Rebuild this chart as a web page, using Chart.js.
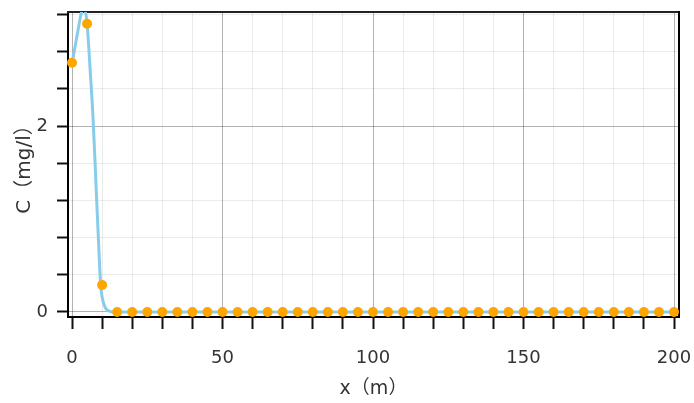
<!DOCTYPE html>
<html>
<head>
<meta charset="utf-8">
<script src="https://cdn.jsdelivr.net/npm/chart.js@4"></script>
<style>
  html, body { margin: 0; padding: 0; background: #fff; }
  #wrap { width: 694px; height: 403px; }
</style>
</head>
<body>
<div id="wrap"><canvas id="miGrafico" width="694" height="403"></canvas></div>
<script>
// measured points
const pointX = [0, 5, 10, 15, 20, 25, 30, 35, 40, 45, 50, 55, 60, 65, 70, 75, 80, 85, 90, 95, 100,
	105, 110, 115, 120, 125, 130, 135, 140, 145, 150, 155, 160, 165, 170, 175, 180, 185, 190, 195, 200];
const pointC = [2.68, 3.1, 0.29, 0, 0, 0, 0, 0, 0, 0, 0, 0, 0, 0, 0, 0, 0, 0, 0, 0, 0,
	0, 0, 0, 0, 0, 0, 0, 0, 0, 0, 0, 0, 0, 0, 0, 0, 0, 0, 0, 0];

// fitted curve
const curveX = [0, 1, 2, 3, 4, 5, 6, 7, 8, 9, 9.5, 10, 11, 12, 13, 14, 200];
const curveC = [2.67, 2.85, 3.03, 3.2, 3.28, 3.1, 2.62, 2.08, 1.35, 0.62, 0.3, 0.16, 0.05, 0.015, 0.003, 0, 0];

const xTitle = "x（m）";
const yTitle = "C（mg/l）";

const fontFam = "'DejaVu Sans', 'Noto Sans CJK SC', sans-serif";
const textColor = "#333";

function toXY(xs, ys) {
	return xs.map((x, i) => ({ x: x, y: ys[i] }));
}

function isMult(v, step) {
	return Math.abs(v - Math.round(v / step) * step) < 1e-6;
}

function noPad(s) {
	s.paddingTop = 0;
	s.paddingBottom = 0;
	s.paddingLeft = 0;
	s.paddingRight = 0;
}

function initGrafico() {
	const ctx = document.getElementById("miGrafico");

	new Chart(ctx, {
		type: "scatter",
		data: {
			datasets: [
				{
					label: "measured",
					data: toXY(pointX, pointC),
					backgroundColor: "#ffa500",
					borderColor: "#ffa500",
					pointRadius: 5,
					pointBorderWidth: 0,
					showLine: false,
					clip: false,
					order: 0,
				},
				{
					label: "curve",
					data: toXY(curveX, curveC),
					borderColor: "#87cdea",
					borderWidth: 3,
					pointRadius: 0,
					showLine: true,
					cubicInterpolationMode: "monotone",
					order: 1,
				},
			],
		},
		options: {
			responsive: false,
			animation: false,
			layout: { padding: { top: 12, right: 15, left: 0, bottom: 0 } },
			plugins: { legend: { display: false }, tooltip: { enabled: false } },
			scales: {
				x: {
					type: "linear",
					position: "bottom",
					min: -1.33,
					max: 201.66,
					afterFit: (s) => { s.height = 86; noPad(s); },
					border: { color: "#000", width: 2 },
					grid: {
						color: (c) => isMult(c.tick.value, 50) ? "rgba(0,0,0,0.3)" : "rgba(0,0,0,0.08)",
						tickColor: "#111",
						tickLength: 12,
						tickWidth: 2,
					},
					ticks: {
						stepSize: 10,
						includeBounds: false,
						autoSkip: false,
						maxRotation: 0,
						padding: 19,
						color: textColor,
						font: { family: fontFam, size: 18 },
						callback: (v) => isMult(v, 50) ? String(Math.round(v)) : "",
					},
					title: {
						display: true,
						text: xTitle,
						color: textColor,
						font: { family: fontFam, size: 19 },
						padding: { top: 0, bottom: 3 },
					},
				},
				y: {
					type: "linear",
					position: "left",
					min: -0.054,
					max: 3.226,
					afterFit: (s) => { s.width = 68; noPad(s); },
					border: { color: "#000", width: 2 },
					grid: {
						color: (c) => isMult(c.tick.value, 2) ? "rgba(0,0,0,0.3)" : "rgba(0,0,0,0.08)",
						tickColor: "#111",
						tickLength: 11,
						tickWidth: 2,
					},
					ticks: {
						stepSize: 0.4,
						includeBounds: false,
						autoSkip: false,
						padding: 9,
						color: textColor,
						font: { family: fontFam, size: 18 },
						callback: (v) => isMult(v, 2) ? String(Math.round(v)) : "",
					},
					title: {
						display: true,
						text: yTitle,
						color: textColor,
						font: { family: fontFam, size: 20 },
						padding: { top: 13, bottom: 0 },
					},
				},
				x2: {
					type: "linear",
					position: "top",
					min: 0,
					max: 1,
					afterFit: (s) => { s.height = 0; noPad(s); },
					border: { color: "#222", width: 2 },
					grid: { display: false, drawTicks: false },
					ticks: { display: false },
				},
				y2: {
					type: "linear",
					position: "right",
					min: 0,
					max: 1,
					afterFit: (s) => { s.width = 0; noPad(s); },
					border: { color: "#000", width: 2 },
					grid: { display: false, drawTicks: false },
					ticks: { display: false },
				},
			},
		},
	});
}

initGrafico();
</script>
</body>
</html>
